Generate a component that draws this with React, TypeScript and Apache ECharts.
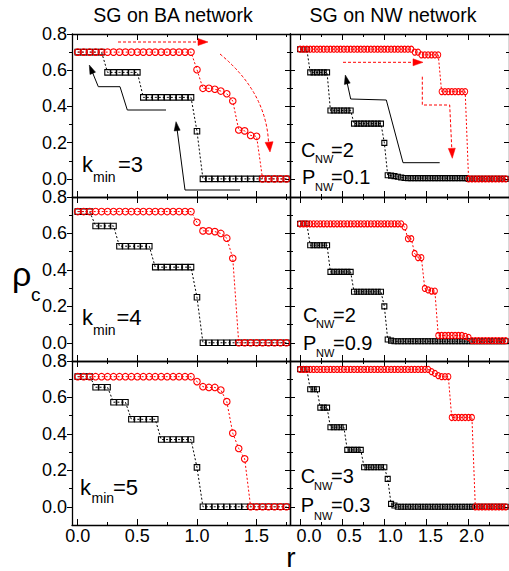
import React, { useEffect, useRef } from "react";
import * as echarts from "echarts";

// ---------- data ----------
const rBA = [
  0, 0.05, 0.1, 0.15, 0.2, 0.25, 0.3, 0.35, 0.4, 0.45,
  0.5, 0.55, 0.6, 0.65, 0.7, 0.75, 0.8, 0.85, 0.9, 0.95,
  1.0, 1.05, 1.1, 1.15, 1.2, 1.25, 1.3, 1.35, 1.4, 1.45,
  1.5, 1.55, 1.6, 1.65, 1.7, 1.75,
];
const rNW = [
  0, 0.04, 0.08, 0.12, 0.16, 0.2, 0.24, 0.28, 0.32, 0.36,
  0.4, 0.44, 0.48, 0.52, 0.56, 0.6, 0.64, 0.68, 0.72, 0.76,
  0.8, 0.84, 0.88, 0.92, 0.96, 1.0, 1.04, 1.08, 1.12, 1.16,
  1.2, 1.24, 1.28, 1.32, 1.36, 1.4, 1.44, 1.48, 1.52, 1.56,
  1.6, 1.64, 1.68, 1.72, 1.76, 1.8, 1.84, 1.88, 1.92, 1.96,
  2.0, 2.04, 2.08, 2.12, 2.16, 2.2, 2.24, 2.28, 2.32, 2.36,
  2.4, 2.44,
];

// BA network, k_min = 3
const baRed3 = [
  0.7, 0.7, 0.7, 0.7, 0.7, 0.7, 0.7, 0.7, 0.7, 0.7,
  0.7, 0.7, 0.7, 0.7, 0.7, 0.7, 0.7, 0.7, 0.7, 0.7,
  0.603, 0.5, 0.5, 0.495, 0.485, 0.47, 0.43, 0.27, 0.265, 0.24,
  0.235, 0, 0, 0, 0, 0,
];
const baBlack3 = [
  0.7, 0.7, 0.7, 0.7, 0.7, 0.588, 0.588, 0.588, 0.588, 0.588,
  0.588, 0.45, 0.45, 0.45, 0.45, 0.45, 0.45, 0.45, 0.45, 0.45,
  0.263, 0, 0, 0, 0, 0, 0, 0, 0, 0,
  0, 0, 0, 0, 0, 0,
];
// BA network, k_min = 4
const baRed4 = [
  0.72, 0.72, 0.72, 0.72, 0.72, 0.72, 0.72, 0.72, 0.72, 0.72,
  0.72, 0.72, 0.72, 0.72, 0.72, 0.72, 0.72, 0.72, 0.72, 0.72,
  0.661, 0.614, 0.614, 0.61, 0.6, 0.574, 0.464, 0, 0, 0,
  0, 0, 0, 0, 0, 0,
];
const baBlack4 = [
  0.72, 0.72, 0.72, 0.641, 0.641, 0.641, 0.641, 0.53, 0.53, 0.53,
  0.53, 0.53, 0.53, 0.415, 0.415, 0.415, 0.415, 0.415, 0.415, 0.415,
  0.25, 0, 0, 0, 0, 0, 0, 0, 0, 0,
  0, 0, 0, 0, 0, 0,
];
// BA network, k_min = 5
const baRed5 = [
  0.714, 0.714, 0.714, 0.714, 0.714, 0.714, 0.714, 0.714, 0.714, 0.714,
  0.714, 0.714, 0.714, 0.714, 0.714, 0.714, 0.714, 0.714, 0.714, 0.714,
  0.687, 0.659, 0.655, 0.655, 0.641, 0.577, 0.404, 0.32, 0.263, 0,
  0, 0, 0, 0, 0, 0,
];
const baBlack5 = [
  0.714, 0.714, 0.714, 0.656, 0.656, 0.656, 0.574, 0.574, 0.574, 0.48,
  0.48, 0.48, 0.48, 0.48, 0.369, 0.369, 0.369, 0.369, 0.369, 0.369,
  0.216, 0, 0, 0, 0, 0, 0, 0, 0, 0,
  0, 0, 0, 0, 0, 0,
];

// NW network, C=2, P=0.1
const nwRed1 = [
  0.716, 0.716, 0.716, 0.716, 0.716, 0.716, 0.716, 0.716, 0.716, 0.716,
  0.716, 0.716, 0.716, 0.716, 0.716, 0.716, 0.716, 0.716, 0.716, 0.716,
  0.716, 0.716, 0.716, 0.716, 0.716, 0.716, 0.716, 0.716, 0.716, 0.716,
  0.716, 0.716, 0.716, 0.716, 0.7, 0.7, 0.685, 0.685, 0.685, 0.685,
  0.685, 0.685, 0.482, 0.482, 0.482, 0.482, 0.482, 0.482, 0.482, 0.482,
  0, 0, 0, 0, 0, 0, 0, 0, 0, 0,
  0, 0,
];
const nwBlack1 = [
  0.716, 0.716, 0.716, 0.588, 0.588, 0.588, 0.588, 0.588, 0.588, 0.378,
  0.378, 0.378, 0.378, 0.378, 0.378, 0.378, 0.305, 0.305, 0.305, 0.305,
  0.305, 0.305, 0.305, 0.305, 0.305, 0.199, 0.02, 0.018, 0.015, 0.012,
  0.008, 0.005, 0.004, 0.004, 0.004, 0.004, 0.004, 0.004, 0.004, 0.004,
  0.004, 0.004, 0.004, 0.004, 0.004, 0.004, 0.004, 0.004, 0.004, 0.004,
  0, 0, 0, 0, 0, 0, 0, 0, 0, 0,
  0, 0,
];
// NW network, C=2, P=0.9
const nwRed2 = [
  0.653, 0.653, 0.653, 0.653, 0.653, 0.653, 0.653, 0.653, 0.653, 0.653,
  0.653, 0.653, 0.653, 0.653, 0.653, 0.653, 0.653, 0.653, 0.653, 0.653,
  0.653, 0.653, 0.653, 0.653, 0.653, 0.653, 0.653, 0.653, 0.653, 0.653,
  0.653, 0.636, 0.571, 0.571, 0.49, 0.467, 0.467, 0.298, 0.29, 0.284,
  0.284, 0.04, 0.04, 0.04, 0.04, 0.04, 0.04, 0.04, 0.04, 0.035,
  0.03, 0.012, 0.012, 0.012, 0.012, 0.012, 0.012, 0.012, 0.012, 0.012,
  0.012, 0.012,
];
const nwBlack2 = [
  0.653, 0.653, 0.653, 0.535, 0.535, 0.535, 0.535, 0.535, 0.535, 0.389,
  0.389, 0.389, 0.389, 0.389, 0.389, 0.389, 0.28, 0.28, 0.28, 0.28,
  0.28, 0.28, 0.28, 0.28, 0.28, 0.2, 0.018, 0.012, 0.008, 0.008,
  0.008, 0.008, 0.008, 0.008, 0.008, 0.008, 0.008, 0.008, 0.008, 0.008,
  0.008, 0.008, 0.008, 0.008, 0.008, 0.008, 0.008, 0.008, 0.008, 0.008,
  0.008, 0.008, 0.008, 0.008, 0.008, 0.008, 0.008, 0.008, 0.008, 0.008,
  0.008, 0.008,
];
// NW network, C=3, P=0.3
const nwRed3 = [
  0.754, 0.754, 0.754, 0.754, 0.754, 0.754, 0.754, 0.754, 0.754, 0.754,
  0.754, 0.754, 0.754, 0.754, 0.754, 0.754, 0.754, 0.754, 0.754, 0.754,
  0.754, 0.754, 0.754, 0.754, 0.754, 0.754, 0.754, 0.754, 0.754, 0.754,
  0.754, 0.754, 0.754, 0.754, 0.754, 0.754, 0.754, 0.754, 0.754, 0.742,
  0.732, 0.72, 0.714, 0.714, 0.714, 0.49, 0.49, 0.49, 0.49, 0.49,
  0.49, 0.49, 0, 0, 0, 0, 0, 0, 0, 0,
  0, 0,
];
const nwBlack3 = [
  0.755, 0.755, 0.755, 0.645, 0.645, 0.645, 0.544, 0.544, 0.544, 0.4365,
  0.4365, 0.4365, 0.4365, 0.4365, 0.312, 0.312, 0.312, 0.312, 0.312, 0.217,
  0.217, 0.217, 0.217, 0.217, 0.217, 0.217, 0.153, 0.016, 0.007, 0,
  0, 0, 0, 0, 0, 0, 0, 0, 0, 0,
  0, 0, 0, 0, 0, 0, 0, 0, 0, 0,
  0, 0, 0, 0, 0, 0, 0, 0, 0, 0,
  0, 0,
];

const xTicksBA = [0, 0.5, 1, 1.5];
const xMinorBA = [0.25, 0.75, 1.25, 1.75];
const xTicksNW = [0, 0.5, 1, 1.5, 2];
const xMinorNW = [0.25, 0.75, 1.25, 1.75, 2.25];
const yTicks = [0, 0.2, 0.4, 0.6, 0.8];
const yMinor = [0.1, 0.3, 0.5, 0.7];

const titles = ["SG on BA network", "SG on NW network"];

// ---------- layout ----------
const FONT = '"Liberation Sans", Arial, Helvetica, sans-serif';
const RED = "#ff0000";
const LABEL_SIZE = 18;

const colSpec = [
  { left: 72, width: 218, min: -0.048, max: 1.78, major: xTicksBA, minor: xMinorBA, circ: 6.5 as any, sq: 5.5 as any, shift: [0, 0, 0, 0] },
  { left: 290, width: 221, min: -0.12, max: 2.48, major: xTicksNW, minor: xMinorNW, circ: [5, 6] as any, sq: 5 as any, shift: [18, 14, 12, 8, 6] },
];
const rowSpec = [
  { top: 34, height: 163 },
  { top: 197, height: 164 },
  { top: 361, height: 164 },
];

const panels = [
  { r: rBA, black: baBlack3, red: baRed3, col: 0, row: 0 },
  { r: rNW, black: nwBlack1, red: nwRed1, col: 1, row: 0 },
  { r: rBA, black: baBlack4, red: baRed4, col: 0, row: 1 },
  { r: rNW, black: nwBlack2, red: nwRed2, col: 1, row: 1 },
  { r: rBA, black: baBlack5, red: baRed5, col: 0, row: 2 },
  { r: rNW, black: nwBlack3, red: nwRed3, col: 1, row: 2 },
];

function txt(x: number, y: number, text: string, size: number, align = "left", color = "#000") {
  return {
    type: "text",
    x,
    y,
    z: 100,
    style: {
      text,
      fill: color,
      fontSize: size,
      fontFamily: FONT,
      align,
      verticalAlign: "middle",
    },
  };
}

function subLabel(
  xm: number, xs: number, xr: number, baseM: number, baseS: number,
  main: string, sub: string, rest: string, size: number, subSize: number
) {
  return [
    txt(xm, baseM - 0.35 * size, main, size),
    txt(xs, baseS - 0.35 * subSize, sub, subSize),
    txt(xr, baseM - 0.35 * size, rest, size),
  ];
}

function arrowHead(tip: number[], from: number[], len: number, half: number, color: string) {
  const dx = tip[0] - from[0];
  const dy = tip[1] - from[1];
  const n = Math.sqrt(dx * dx + dy * dy);
  const ux = dx / n;
  const uy = dy / n;
  const bx = tip[0] - ux * len;
  const by = tip[1] - uy * len;
  return {
    type: "polygon",
    z: 100,
    shape: {
      points: [
        tip,
        [bx - uy * half, by + ux * half],
        [bx + uy * half, by - ux * half],
      ],
    },
    style: { fill: color, stroke: color, lineWidth: 0.5 },
  };
}

function pline(points: number[][], color: string, dashed: boolean) {
  return {
    type: "polyline",
    z: 100,
    shape: { points },
    style: { stroke: color, fill: null, lineWidth: 1, lineDash: dashed ? [3, 2] : null },
  };
}

function buildOption() {
  const grid: any[] = [];
  const xAxis: any[] = [];
  const yAxis: any[] = [];
  const series: any[] = [];
  const axisLineStyle = { color: "#000", width: 1.3 };
  const tickStyle = { color: "#000", width: 1 };

  panels.forEach((p, g) => {
    const c = colSpec[p.col];
    const rw = rowSpec[p.row];
    grid.push({ left: c.left, top: rw.top, width: c.width, height: rw.height });

    const rich: any = {};
    c.shift.forEach((s, i) => {
      rich["s" + i] = {
        padding: [0, 0, 0, s],
        fontSize: LABEL_SIZE,
        fontFamily: FONT,
        color: "#000",
        lineHeight: 17,
      };
    });

    const mkX = (position: string, ticks: number[], len: number, showLine: boolean, showLabel: boolean) => ({
      type: "value",
      gridIndex: g,
      position,
      min: c.min,
      max: c.max,
      axisLine: { show: showLine, onZero: false, lineStyle: axisLineStyle },
      axisTick: { show: true, inside: true, length: len, customValues: ticks, lineStyle: tickStyle },
      axisLabel: {
        show: showLabel,
        customValues: ticks,
        showMinLabel: true,
        showMaxLabel: true,
        hideOverlap: false,
        formatter: (v: number) => "{s" + Math.round(v * 2) + "|" + v.toFixed(1) + "}",
        rich,
        fontSize: LABEL_SIZE,
        fontFamily: FONT,
        color: "#000",
        lineHeight: 17,
        margin: 2,
      },
      splitLine: { show: false },
    });
    const mkY = (position: string, ticks: number[], len: number, showLine: boolean, showLabel: boolean, inside: boolean) => ({
      type: "value",
      gridIndex: g,
      position,
      min: -0.1,
      max: 0.8,
      axisLine: { show: showLine, onZero: false, lineStyle: axisLineStyle },
      axisTick: { show: true, inside, length: len, customValues: ticks, lineStyle: tickStyle },
      axisLabel: {
        show: showLabel,
        customValues: ticks,
        showMinLabel: true,
        showMaxLabel: true,
        formatter: (v: number) => v.toFixed(1),
        fontSize: LABEL_SIZE,
        fontFamily: FONT,
        color: "#000",
        margin: 5,
      },
      splitLine: { show: false },
    });

    const xi = xAxis.length;
    xAxis.push(mkX("bottom", c.major, 6, true, p.row === 2));
    xAxis.push(mkX("bottom", c.minor, 3, false, false));
    xAxis.push(mkX("top", c.major, 6, true, false));
    xAxis.push(mkX("top", c.minor, 3, false, false));

    const yi = yAxis.length;
    const leftInside = p.col === 1;
    yAxis.push(mkY("left", yTicks, 5, true, p.col === 0, leftInside));
    yAxis.push(mkY("left", yMinor, 3, false, false, leftInside));
    yAxis.push(mkY("right", yTicks, 5, true, false, true));
    yAxis.push(mkY("right", yMinor, 3, false, false, true));

    series.push({
      type: "line",
      xAxisIndex: xi,
      yAxisIndex: yi,
      data: p.r.map((r, i) => [r, p.black[i]]),
      symbol: "rect",
      symbolSize: c.sq,
      showAllSymbol: true,
      itemStyle: { color: "rgba(255,255,255,0)", borderColor: "#000", borderWidth: 1.1 },
      lineStyle: { color: "#000", width: 1, type: [2, 2] },
      emphasis: { disabled: true },
      z: 2,
    });
    series.push({
      type: "line",
      xAxisIndex: xi,
      yAxisIndex: yi,
      data: p.r.map((r, i) => [r, p.red[i]]),
      symbol: "circle",
      symbolSize: c.circ,
      showAllSymbol: true,
      itemStyle: { color: "rgba(255,255,255,0)", borderColor: RED, borderWidth: 1.1 },
      lineStyle: { color: RED, width: 1, type: [2, 2] },
      emphasis: { disabled: true },
      z: 3,
    });
  });

  const graphic: any[] = [
    txt(173, 15, titles[0], 19.5, "center"),
    txt(393, 15, titles[1], 19.5, "center"),
    txt(12, 274, "ρ", 34),
    txt(31, 294, "c", 19),
    txt(291, 557, "r", 28, "center"),
    // annotations
    ...subLabel(82, 93, 118, 171.7, 181.7, "k", "min", "=3", 22, 14),
    ...subLabel(82, 93, 116.5, 325, 335, "k", "min", "=4", 22, 14),
    ...subLabel(80, 91.5, 113, 495, 503.3, "k", "min", "=5", 22, 14),
    ...subLabel(301, 315, 331, 157.3, 162.7, "C", "NW", "=2", 20, 11),
    ...subLabel(302, 315, 331, 184, 191, "P", "NW", "=0.1", 20, 11),
    ...subLabel(303, 316, 333, 321.7, 328.3, "C", "NW", "=2", 20, 11),
    ...subLabel(303, 316, 333, 350, 356.7, "P", "NW", "=0.9", 20, 11),
    ...subLabel(300.7, 314, 331, 483.3, 490, "C", "NW", "=3", 20, 11),
    ...subLabel(300.7, 314, 331, 512.3, 520, "P", "NW", "=0.3", 20, 11),
    // arrows, top-left panel
    pline([[118, 42], [199, 42]], RED, true),
    arrowHead([208, 42], [118, 42], 10, 3.5, RED),
    {
      type: "bezierCurve",
      z: 100,
      shape: { x1: 220, y1: 54, cpx1: 266, cpy1: 92, x2: 268.5, y2: 142 },
      style: { stroke: RED, fill: null, lineWidth: 1, lineDash: [3, 2] },
    },
    arrowHead([270, 152], [268.5, 136], 10, 4, RED),
    pline([[166, 110], [127.3, 110], [120, 86.7], [98.3, 86.7], [92.3, 72]], "#000", false),
    arrowHead([89.3, 65], [98.3, 86.7], 9, 3, "#000"),
    pline([[240, 190], [185, 190], [177.2, 130]], "#000", false),
    arrowHead([176, 121.7], [185, 190], 9, 3, "#000"),
    // arrows, top-right panel
    pline([[343, 62.3], [414, 62.3]], RED, true),
    arrowHead([423, 62.3], [343, 62.3], 10, 3.5, RED),
    pline([[422.3, 76.7], [422.3, 105], [449.7, 105], [451.8, 149]], RED, true),
    arrowHead([452.3, 158.3], [449.7, 105], 10, 3.5, RED),
    pline([[439.7, 162.7], [403, 162.7], [386.3, 100], [350.7, 99], [347.2, 83]], "#000", false),
    arrowHead([345.3, 75], [350.7, 99], 9, 3, "#000"),
  ];

  return { animation: false, backgroundColor: "#fff", grid, xAxis, yAxis, series, graphic };
}

export default function App() {
  const ref = useRef<HTMLDivElement>(null);
  useEffect(() => {
    if (!ref.current) return;
    const chart = echarts.init(ref.current, null, { renderer: "svg" });
    chart.setOption(buildOption() as any);
    return () => chart.dispose();
  }, []);
  return (
    <div
      ref={ref}
      style={{ position: "absolute", left: 0, top: 0, width: 509, height: 571, background: "#fff" }}
    />
  );
}
